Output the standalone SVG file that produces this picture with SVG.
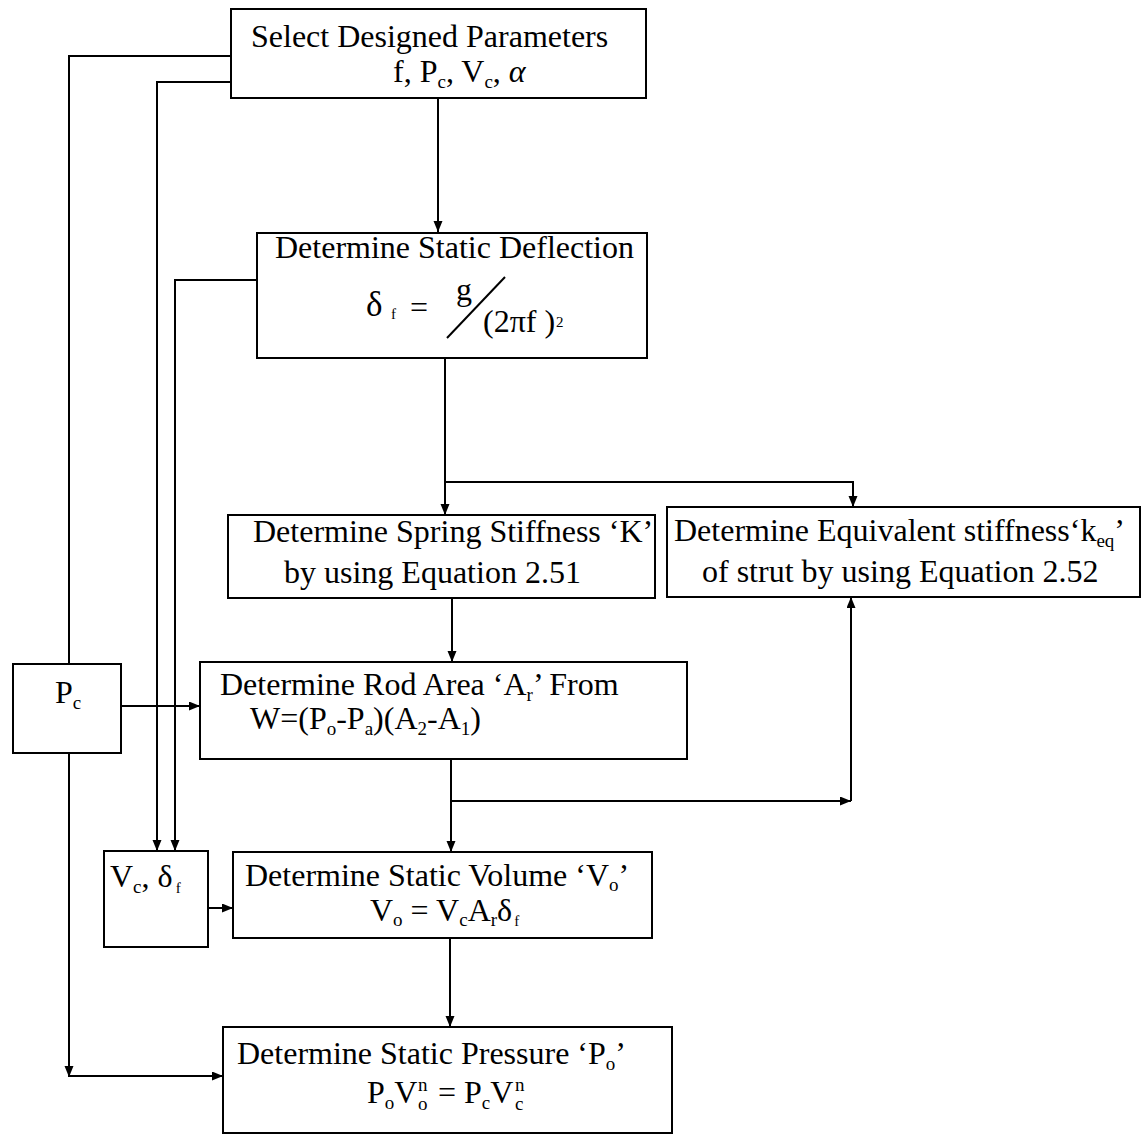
<svg xmlns="http://www.w3.org/2000/svg" width="1143" height="1135" viewBox="0 0 1143 1135">
<style>
.box{fill:#fff;stroke:#000;stroke-width:2}
.ln{fill:none;stroke:#000;stroke-width:2}
text{font-family:"Liberation Serif","Times New Roman",serif;font-size:32px;fill:#000}
.s{font-size:19px}
.ss{font-size:15px}
.big{font-size:35px}
</style>
<defs>
<marker id="ah" markerUnits="userSpaceOnUse" markerWidth="12" markerHeight="10" refX="11" refY="4.5" orient="auto">
<path d="M0,0 L11,4.5 L0,9 z" fill="#000"/>
</marker>
</defs>
<rect width="1143" height="1135" fill="#fff"/>
<g id="connectors">
<path class="ln" d="M438,98 V232" marker-end="url(#ah)"/>
<path class="ln" d="M231,56 H69 V664"/>
<path class="ln" d="M231,82 H157 V851" marker-end="url(#ah)"/>
<path class="ln" d="M257,280 H175 V851" marker-end="url(#ah)"/>
<path class="ln" d="M445,358 V515" marker-end="url(#ah)"/>
<path class="ln" d="M445,482 H853 V507" marker-end="url(#ah)"/>
<path class="ln" d="M452,598 V662" marker-end="url(#ah)"/>
<path class="ln" d="M121,706 H200" marker-end="url(#ah)"/>
<path class="ln" d="M451,759 V852" marker-end="url(#ah)"/>
<path class="ln" d="M451,801 H851" marker-end="url(#ah)"/>
<path class="ln" d="M851,801 V597" marker-end="url(#ah)"/>
<path class="ln" d="M208,908 H233" marker-end="url(#ah)"/>
<path class="ln" d="M450,938 V1027" marker-end="url(#ah)"/>
<path class="ln" d="M69,753 V1077" marker-end="url(#ah)"/>
<path class="ln" d="M69,1076 H223" marker-end="url(#ah)"/>
</g>
<g id="select">
<rect class="box" x="231" y="9" width="415" height="89"/>
<text x="251" y="47">Select Designed Parameters</text>
<text x="393" y="82">f, P<tspan class="s" dy="6">c</tspan><tspan dy="-6">, V</tspan><tspan class="s" dy="6">c</tspan><tspan dy="-6">, </tspan><tspan font-style="italic">α</tspan></text>
</g>
<g id="deflection">
<rect class="box" x="257" y="233" width="390" height="125"/>
<text x="275" y="258">Determine Static Deflection</text>
<text class="big" x="366" y="316">δ</text>
<text class="ss" x="391" y="319">f</text>
<text x="410" y="318">=</text>
<text x="456" y="300">g</text>
<path class="ln" d="M447,338 L505,277"/>
<text x="483" y="332">(2πf )</text>
<text class="ss" x="556" y="327">2</text>
</g>
<g id="spring">
<rect class="box" x="228" y="515" width="427" height="83"/>
<text x="253" y="542">Determine Spring Stiffness ‘K’</text>
<text x="284" y="583">by using Equation 2.51</text>
</g>
<g id="equivalent">
<rect class="box" x="667" y="507" width="473" height="90"/>
<text x="674" y="541">Determine Equivalent stiffness‘k<tspan class="s" dy="6">eq</tspan><tspan dy="-6">’</tspan></text>
<text x="702" y="582">of strut by using Equation 2.52</text>
</g>
<g id="pc">
<rect class="box" x="13" y="664" width="108" height="89"/>
<text x="55" y="703">P<tspan class="s" dy="6">c</tspan></text>
</g>
<g id="rod">
<rect class="box" x="200" y="662" width="487" height="97"/>
<text x="220" y="695">Determine Rod Area ‘A<tspan class="s" dy="6">r</tspan><tspan dy="-6">’ From</tspan></text>
<text x="250" y="729">W=(P<tspan class="s" dy="6">o</tspan><tspan dy="-6">-P</tspan><tspan class="s" dy="6">a</tspan><tspan dy="-6">)(A</tspan><tspan class="s" dy="6">2</tspan><tspan dy="-6">-A</tspan><tspan class="s" dy="6">1</tspan><tspan dy="-6">)</tspan></text>
</g>
<g id="vcdelta">
<rect class="box" x="104" y="851" width="104" height="96"/>
<text x="110" y="887">V<tspan class="s" dy="6">c</tspan><tspan dy="-6">, δ</tspan><tspan class="ss" dx="3" dy="6">f</tspan></text>
</g>
<g id="volume">
<rect class="box" x="233" y="852" width="419" height="86"/>
<text x="245" y="886">Determine Static Volume ‘V<tspan class="s" dy="5">o</tspan><tspan dy="-5">’</tspan></text>
<text x="370" y="921">V<tspan class="s" dy="5">o</tspan><tspan dy="-5"> = V</tspan><tspan class="s" dy="5">c</tspan><tspan dy="-5">A</tspan><tspan class="s" dy="5">r</tspan><tspan dy="-5">δ</tspan><tspan class="ss" dx="2" dy="5">f</tspan></text>
</g>
<g id="pressure">
<rect class="box" x="223" y="1027" width="449" height="106"/>
<text x="237" y="1064">Determine Static Pressure ‘P<tspan class="s" dy="6">o</tspan><tspan dy="-6">’</tspan></text>
<text x="367" y="1103">P<tspan class="s" dy="6">o</tspan><tspan dy="-6">V</tspan></text>
<text class="s" x="418" y="1110">o</text>
<text class="s" x="418" y="1091">n</text>
<text x="438" y="1103">= P<tspan class="s" dy="6">c</tspan><tspan dy="-6">V</tspan></text>
<text class="s" x="515" y="1110">c</text>
<text class="s" x="515" y="1091">n</text>
</g>
</svg>
